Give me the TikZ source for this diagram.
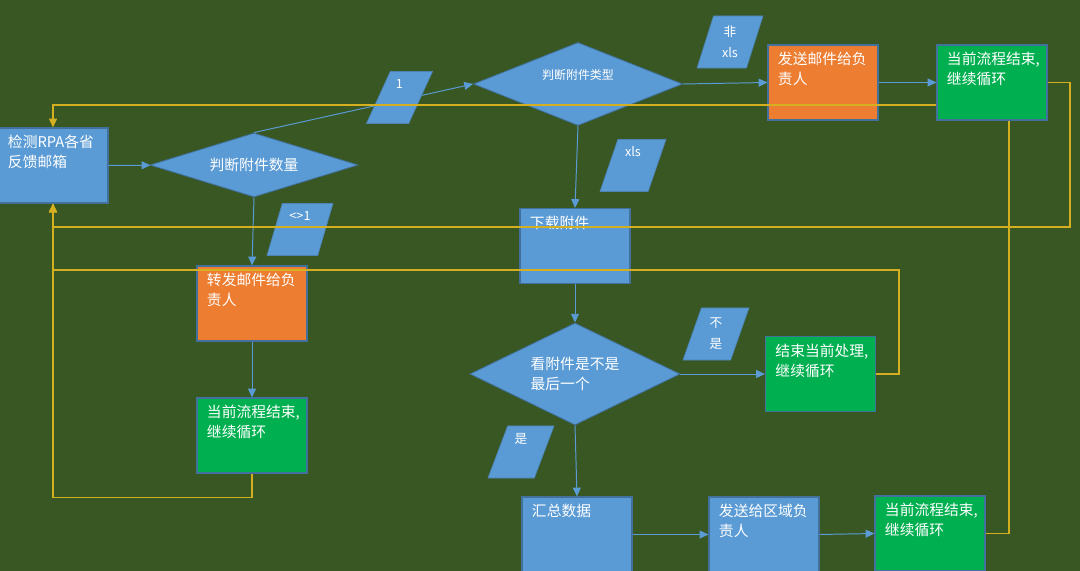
\documentclass[tikz,border=0pt]{standalone}
\usepackage{fontspec}
\setmainfont{Noto Sans CJK SC}
\usetikzlibrary{arrows.meta,shapes.geometric}
\definecolor{slide}{HTML}{385723}
\definecolor{shapeblue}{HTML}{5B9BD5}
\definecolor{shapeedge}{HTML}{41719C}
\definecolor{shapeorange}{HTML}{ED7D31}
\definecolor{shapegreen}{HTML}{00B050}
\definecolor{loopgold}{HTML}{D4B020}

\begin{document}
\begin{tikzpicture}[
    x=0.025cm, y=-0.025cm,
    box/.style={draw=shapeedge, line width=0.8pt, fill=shapeblue, text=white,
      font=\fontsize{10.5}{14}\selectfont, align=left,
      minimum width=2.75cm, minimum height=1.875cm,
      inner xsep=0.25cm, inner ysep=0.15cm,
      text width=2.25cm, text height=0.35cm, text depth=1.225cm},
    mailbox/.style={box, fill=shapeorange},
    donebox/.style={box, fill=shapegreen},
    decide/.style={diamond, draw=shapeedge, line width=0.6pt, fill=shapeblue,
      text=white, inner sep=0pt, align=left,
      font=\fontsize{10.5}{14}\selectfont},
    cond/.style={trapezium, trapezium left angle=76, trapezium right angle=104,
      trapezium stretches=true, minimum width=1.65cm, minimum height=1.3cm,
      inner sep=0pt, draw=shapeblue!85!black, line width=0.5pt,
      fill=shapeblue, text=white, align=center,
      font=\fontsize{9}{15}\selectfont},
    arrow/.style={-{Triangle[length=2.2mm,width=2mm]}, line width=0.7pt,
      draw=shapeblue},
    goback/.style={-{Triangle[length=2.2mm,width=2mm]}, line width=0.8pt,
      draw=loopgold}
  ]
    \useasboundingbox (0,0) rectangle (1080,571);
    \clip (0,0) rectangle (1080,571);
    \fill[slide] (0,0) rectangle (1080,571);

    % main flow
    \node[box] (inbox) at (53,165.5) {检测RPA各省\\反馈邮箱};
    \node[decide, minimum width=5.2cm, minimum height=1.6cm,
      shape aspect=3.25] (count) at (254,165) {判断附件数量};
    \node[decide, minimum width=5.225cm, minimum height=2.075cm,
      shape aspect=2.5, font=\fontsize{8.5}{12}\selectfont,
      text height=0.3cm, text depth=0.5cm] (kind) at (578,84) {判断附件类型};
    \node[mailbox] (notify) at (823,82.5) {发送邮件给负\\责人};
    \node[box] (download) at (575,246) {下载附件};
    \node[mailbox] (forward) at (252,303.5) {转发邮件给负\\责人};
    \node[donebox] (endleft) at (252,435.5) {当前流程结束,\\继续循环};
    \node[decide, minimum width=5.25cm, minimum height=2.55cm,
      shape aspect=2.06] (last) at (575,374) {看附件是不是\\最后一个};
    \node[donebox] (endmid) at (820.5,374) {结束当前处理,\\继续循环};
    \node[box] (collect) at (577,534.5) {汇总数据};
    \node[box] (sendarea) at (764,534.5) {发送给区域负\\责人};
    \node[donebox] (endbottom) at (930,533.5) {当前流程结束,\\继续循环};

    \draw[arrow] (inbox) -- (count);
    \draw[arrow] (count.north) -- (kind.west);
    \draw[arrow] (kind.east) -- (notify.west);
    \draw[arrow] (kind.south) -- (download.north);
    \draw[arrow] (count.south) -- (forward.north);
    \draw[arrow] (forward.south) -- (endleft.north);
    \draw[arrow] (download.south) -- (last.north);
    \draw[arrow] (last.east) -- (endmid.west);
    \draw[arrow] (last.south) -- (collect.north);
    \draw[arrow] (collect.east) -- (sendarea.west);
    \draw[arrow] (sendarea.east) -- (endbottom.west);

    % branch labels
    \node[cond] (one) at (399.5,97.5) {1\\\strut};
    \node[cond] (nonxls) at (730,42) {非\\xls};
    \node[cond] (xls) at (633,165.5) {xls\\\strut};
    \node[cond] (notone) at (300,229.5) {<>1\\\strut};
    \node[cond] (notlast) at (716,334) {不\\是};
    \node[cond] (islast) at (521,452) {是\\\strut};

    % loops back to the mailbox
    \coordinate (kloop) at (899,270);
    \coordinate (jloop) at (1009,105);
    \coordinate (eloop) at (1070,227);
    \draw[goback] (endleft.south) -- ++(0,24) -| (inbox.south);
    \draw[goback] (endmid.east) -| (kloop) -| (inbox.south);
    \draw[goback] (endbottom.east) -| (jloop) -| (inbox.north);

    \node[donebox] (endtop) at (992,82.5) {当前流程结束,\\继续循环};
    \draw[arrow] (notify.east) -- (endtop.west);
    \draw[goback] (endtop.east) -| (eloop) -| (inbox.south);
\end{tikzpicture}
\end{document}
